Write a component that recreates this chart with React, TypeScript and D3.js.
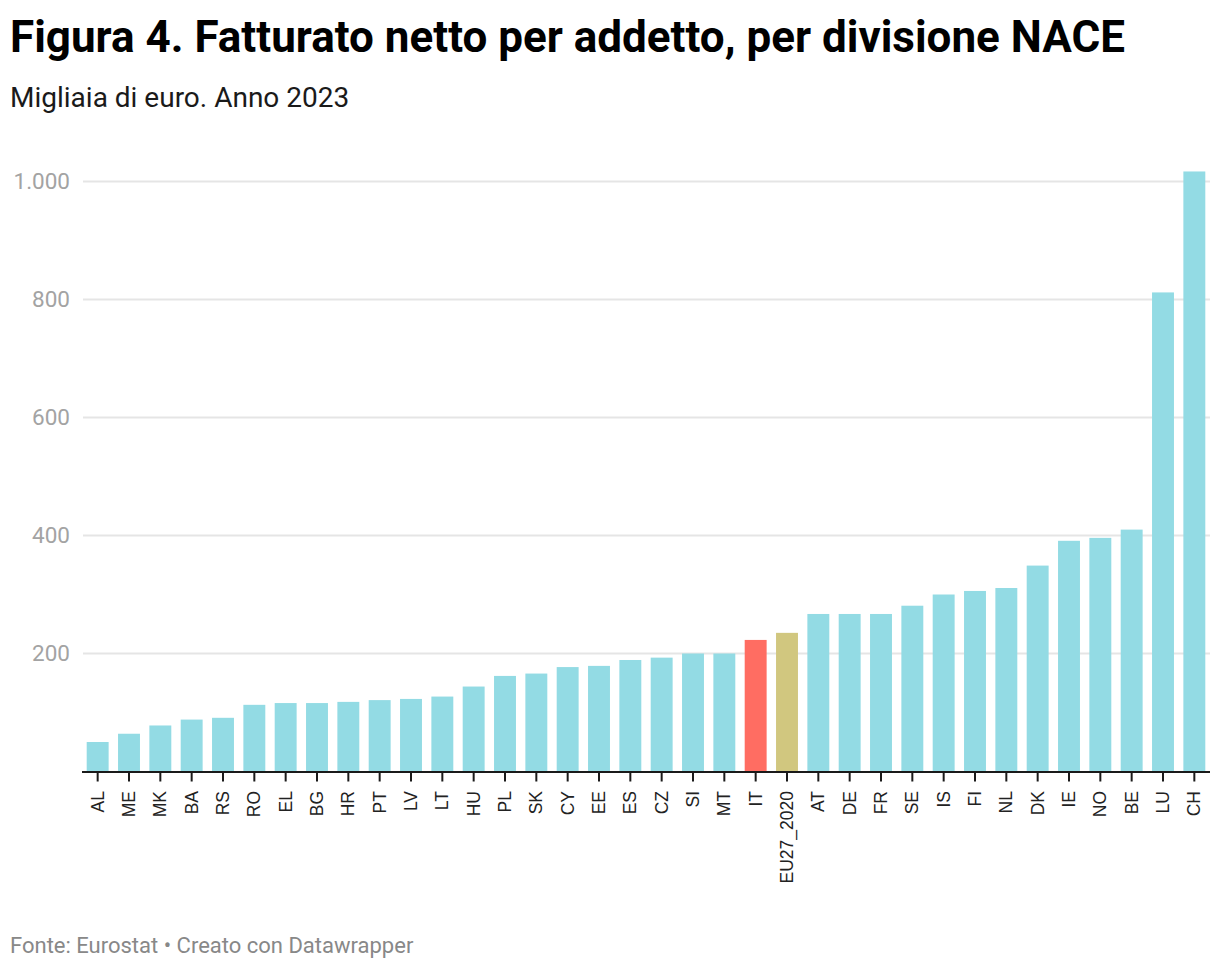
import { useEffect, useRef } from 'react';
import * as d3 from 'd3';

const countries = [
  'AL', 'ME', 'MK', 'BA', 'RS', 'RO', 'EL', 'BG', 'HR', 'PT', 'LV', 'LT', 'HU', 'PL', 'SK', 'CY', 'EE', 'ES',
  'CZ', 'SI', 'MT', 'IT', 'EU27_2020', 'AT', 'DE', 'FR', 'SE', 'IS', 'FI', 'NL', 'DK', 'IE', 'NO', 'BE', 'LU', 'CH',
];
const values = [
  50, 64, 78, 88, 91, 113, 116, 116, 118, 121, 123, 127, 144, 162, 166, 177, 179, 189,
  193, 200, 200, 223, 235, 267, 267, 267, 281, 300, 306, 311, 349, 391, 396, 410, 812, 1017,
];
const yTicks = [200, 400, 600, 800, 1000];

function App() {
  const svgRef = useRef<SVGSVGElement | null>(null);
  const width = 1220;
  const height = 972;
  const margin = { top: 182, right: 10, bottom: 200, left: 82 };

  useEffect(() => {
    const svg = d3.select(svgRef.current);
    svg.selectAll('*').remove();

    const x = d3
      .scaleBand()
      .domain(countries)
      .range([margin.left, width - margin.right])
      .paddingInner(0.3)
      .paddingOuter(0.15);

    const y = d3.scaleLinear().domain([0, 1000]).range([771.5, 181.5]);

    const font = 'Roboto, sans-serif';

    svg
      .append('text')
      .attr('x', 10)
      .attr('y', 52)
      .attr('font-family', font)
      .attr('font-weight', 700)
      .attr('font-size', 44)
      .attr('fill', '#000')
      .text('Figura 4. Fatturato netto per addetto, per divisione NACE');

    svg
      .append('text')
      .attr('x', 10)
      .attr('y', 107)
      .attr('font-family', font)
      .attr('font-size', 28)
      .attr('fill', '#1a1a1a')
      .text('Migliaia di euro. Anno 2023');

    // grid + y labels
    const grid = svg.append('g');
    grid
      .selectAll('line')
      .data(yTicks)
      .enter()
      .append('line')
      .attr('x1', margin.left + 1)
      .attr('x2', width - margin.right)
      .attr('y1', (d) => y(d))
      .attr('y2', (d) => y(d))
      .attr('stroke', '#e5e5e5')
      .attr('stroke-width', 2);
    grid
      .selectAll('text')
      .data(yTicks)
      .enter()
      .append('text')
      .attr('x', 70)
      .attr('y', (d) => y(d))
      .attr('dy', '0.35em')
      .attr('text-anchor', 'end')
      .attr('font-family', font)
      .attr('font-size', 22.5)
      .attr('fill', '#a3a3a3')
      .text((d) => d3.format(',')(d).replace(',', '.'));

    const colorOf = (c: string) => (c === 'IT' ? '#ff6d62' : c === 'EU27_2020' ? '#d1c77f' : '#93dbe4');

    svg
      .append('g')
      .selectAll('rect')
      .data(countries)
      .enter()
      .append('rect')
      .attr('x', (c) => x(c) as number)
      .attr('y', (_, i) => y(values[i]))
      .attr('width', x.bandwidth())
      .attr('height', (_, i) => y(0) - y(values[i]))
      .attr('fill', (c) => colorOf(c));

    // x axis
    const xAxis = svg.append('g');
    xAxis
      .append('line')
      .attr('x1', margin.left)
      .attr('x2', width - margin.right)
      .attr('y1', y(0) + 0.5)
      .attr('y2', y(0) + 0.5)
      .attr('stroke', '#1a1a1a')
      .attr('stroke-width', 2);
    const ticks = xAxis
      .selectAll('g.tick')
      .data(countries)
      .enter()
      .append('g')
      .attr('transform', (c) => `translate(${(x(c) as number) + x.bandwidth() / 2},0)`);
    ticks
      .append('line')
      .attr('y1', y(0))
      .attr('y2', y(0) + 10)
      .attr('stroke', '#1a1a1a')
      .attr('stroke-width', 2);
    ticks
      .append('text')
      .attr('transform', 'translate(0,791) rotate(-90)')
      .attr('dy', '0.35em')
      .attr('text-anchor', 'end')
      .attr('font-family', 'Liberation Sans, Arial, sans-serif')
      .attr('font-size', 17.5)
      .attr('fill', '#222')
      .text((c) => c);

    svg
      .append('text')
      .attr('x', 10)
      .attr('y', 953)
      .attr('font-family', font)
      .attr('font-size', 22)
      .attr('fill', '#888')
      .text('Fonte: Eurostat • Creato con Datawrapper');
  }, []);

  return (
    <svg
      ref={svgRef}
      width={width}
      height={height}
      viewBox={`0 0 ${width} ${height}`}
      style={{ position: 'absolute', left: 0, top: 0, background: '#fff' }}
    />
  );
}

export default App;
